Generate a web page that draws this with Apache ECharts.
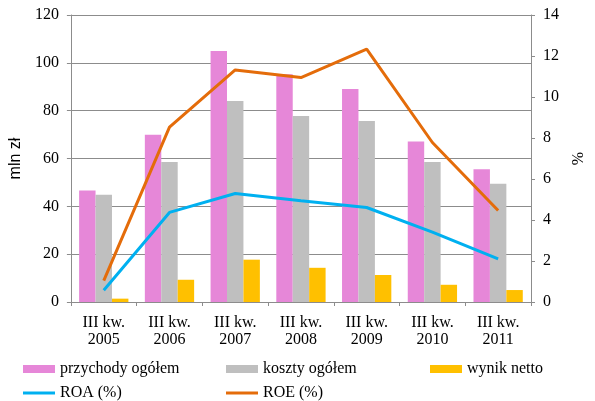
<!DOCTYPE html>
<html>
<head>
	<meta charset="utf-8">
	<title>przychody i koszty</title>
</head>
<body style="margin:0">
<script type="text/javascript" src="https://cdn.jsdelivr.net/npm/echarts@6/dist/echarts.min.js"></script>
<div id="container" style="width: 595px;height: 401px;"></div>
<script type="text/javascript">
	// kwartały
	var categories = ['III kw.\n2005', 'III kw.\n2006', 'III kw.\n2007', 'III kw.\n2008', 'III kw.\n2009', 'III kw.\n2010', 'III kw.\n2011'];
	// mln zł
	var przychody = [46.6, 69.9, 105.0, 95.2, 89.1, 67.1, 55.5];
	var koszty = [44.8, 58.5, 84.0, 77.8, 75.7, 58.5, 49.4];
	var wynik = [1.4, 9.3, 17.7, 14.3, 11.3, 7.2, 5.0];
	// %
	var roa = [0.57, 4.37, 5.29, 4.94, 4.61, 3.41, 2.10];
	var roe = [1.04, 8.53, 11.32, 10.95, 12.33, 7.78, 4.46];

	var serif = 'Liberation Serif';
	var axisGray = '#8c8c8c';

	var myChart = echarts.init(document.getElementById('container'));

	// jedna legenda na pozycję, żeby ułożyć je w siatce jak w oryginale
	function legendAt(name, left, top, h) {
		return {
			data: [name],
			left: left,
			top: top,
			itemWidth: 32,
			itemHeight: h,
			icon: 'rect',
			itemGap: 0,
			textStyle: { fontFamily: serif, fontSize: 16, color: '#000' }
		};
	}

	var option = {
		animation: false,
		legend: [
			legendAt('przychody ogółem', 18, 356, 8),
			legendAt('koszty ogółem', 221, 356, 8),
			legendAt('wynik netto', 425, 356, 8),
			legendAt('ROA (%)', 18, 380, 3),
			legendAt('ROE (%)', 221, 380, 3)
		],
		grid: { left: 62, right: 51, top: 15, bottom: 99 },
		xAxis: {
			type: 'category',
			data: categories,
			axisLine: { lineStyle: { color: axisGray } },
			axisTick: { show: true, length: 4, lineStyle: { color: axisGray } },
			axisLabel: { fontFamily: serif, fontSize: 16, color: '#000', lineHeight: 17, margin: 12 }
		},
		yAxis: [
			{
				type: 'value', min: 0, max: 120, interval: 20,
				name: 'mln zł', nameLocation: 'middle', nameGap: 42, nameRotate: 90,
				nameTextStyle: { fontFamily: 'Liberation Sans', fontSize: 16, color: '#000' },
				axisLine: { show: true, lineStyle: { color: axisGray } },
				axisTick: { show: true, length: 4, lineStyle: { color: axisGray } },
				axisLabel: { fontFamily: serif, fontSize: 16, color: '#000', margin: 12 },
				splitLine: { lineStyle: { color: axisGray } }
			},
			{
				type: 'value', min: 0, max: 14, interval: 2,
				name: '%', nameLocation: 'middle', nameGap: 40, nameRotate: 90,
				nameTextStyle: { fontFamily: serif, fontSize: 16, color: '#000' },
				axisLine: { show: true, lineStyle: { color: axisGray } },
				axisTick: { show: true, length: 4, lineStyle: { color: axisGray } },
				axisLabel: { fontFamily: serif, fontSize: 16, color: '#000', margin: 12 },
				splitLine: { show: false }
			}
		],
		series: [
			{ name: 'przychody ogółem', type: 'bar', data: przychody, barGap: '0%', barCategoryGap: '25%', itemStyle: { color: '#E687D8' } },
			{ name: 'koszty ogółem', type: 'bar', data: koszty, itemStyle: { color: '#BFBFBF' } },
			{ name: 'wynik netto', type: 'bar', data: wynik, itemStyle: { color: '#FFC000' } },
			{ name: 'ROA (%)', type: 'line', yAxisIndex: 1, data: roa, showSymbol: false, symbol: 'none',
				lineStyle: { color: '#00B0F0', width: 3 }, itemStyle: { color: '#00B0F0' } },
			{ name: 'ROE (%)', type: 'line', yAxisIndex: 1, data: roe, showSymbol: false, symbol: 'none',
				lineStyle: { color: '#E46C0A', width: 3 }, itemStyle: { color: '#E46C0A' } }
		]
	};
	myChart.setOption(option);

	window.addEventListener('resize', myChart.resize);
</script>
</body>
</html>
